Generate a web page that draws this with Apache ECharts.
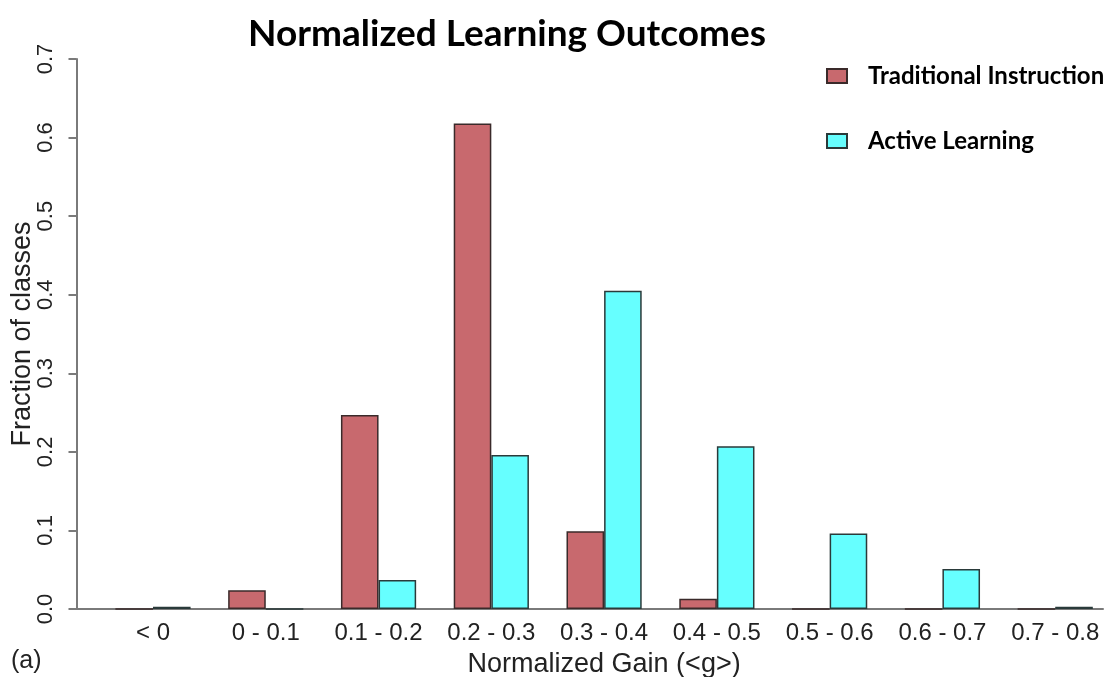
<!DOCTYPE html>
<html>
<head>
<meta charset="utf-8">
<script src="https://cdn.jsdelivr.net/npm/echarts@6/dist/echarts.min.js"></script>
<style>
html,body{margin:0;padding:0;background:#fff;}
#c{width:1106px;height:677px;}
</style>
</head>
<body>
<div id="c"></div>
<script>
const categories = ['< 0', '0 - 0.1', '0.1 - 0.2', '0.2 - 0.3', '0.3 - 0.4', '0.4 - 0.5', '0.5 - 0.6', '0.6 - 0.7', '0.7 - 0.8'];
const traditional = [0, 0.024, 0.247, 0.618, 0.099, 0.013, 0, 0, 0];
const active = [0.003, 0, 0.037, 0.196, 0.405, 0.207, 0.096, 0.051, 0.003];
const seriesNames = ['Traditional Instruction', 'Active Learning'];
const yTicks = [0, 0.1, 0.2, 0.3, 0.4, 0.5, 0.6, 0.7];

const chart = echarts.init(document.getElementById('c'));
const axisFont = 'Liberation Sans, Arial, sans-serif';
const boldFont = 'Lato, "Open Sans", sans-serif';
const option = {
  animation: false,
  backgroundColor: '#fff',
  title: {
    text: 'Normalized Learning Outcomes',
    left: 502, top: 11, textAlign: 'center',
    textStyle: {fontFamily: boldFont, fontWeight: 'bold', fontSize: 37, color: '#000'}
  },
  legend: {
    orient: 'vertical',
    left: 826, top: 64, padding: 0,
    itemWidth: 20, itemHeight: 14,
    itemGap: 41,
    icon: 'rect',
    data: seriesNames,
    textStyle: {fontFamily: boldFont, fontWeight: 'bold', fontSize: 24, color: '#000', padding: [0, 0, 0, 16]}
  },
  grid: [
    {left: 76.5, right: 3, top: 59, bottom: 68, outerBoundsMode: 'none', containLabel: false},
    {left: 96.6, width: 1015, top: 59, bottom: 68, outerBoundsMode: 'none', containLabel: false}
  ],
  xAxis: [
    {gridIndex: 0, type: 'value', min: 0, max: 1,
     axisLine: {show: true, lineStyle: {color: '#7a7a7a', width: 2}},
     axisTick: {show: false}, axisLabel: {show: false}, splitLine: {show: false}},
    {gridIndex: 1, type: 'category', data: categories,
     axisLine: {show: false}, axisTick: {show: false}, splitLine: {show: false},
     axisLabel: {fontFamily: axisFont, fontSize: 24, color: '#222', margin: 12, interval: 0},
     name: 'Normalized Gain (<g>)', nameLocation: 'middle', nameGap: 42, nameMoveOverlap: false,
     nameTextStyle: {fontFamily: axisFont, fontSize: 27, color: '#222'}}
  ],
  yAxis: [
    {gridIndex: 0, type: 'value', min: 0, max: 0.7, interval: 0.1,
     axisLine: {show: true, lineStyle: {color: '#7a7a7a', width: 2}},
     axisTick: {show: true, length: 8, lineStyle: {color: '#7a7a7a', width: 2}},
     splitLine: {show: false},
     axisLabel: {rotate: 90, fontFamily: axisFont, fontSize: 22, color: '#222', margin: 20,
       formatter: v => v.toFixed(1)},
     name: 'Fraction of classes', nameLocation: 'middle', nameGap: 40, nameMoveOverlap: false,
     nameTextStyle: {fontFamily: axisFont, fontSize: 27, color: '#222'}},
    {gridIndex: 1, type: 'value', min: 0, max: 0.7, show: false}
  ],
  graphic: [
    {type: 'text', left: 11, top: 649,
     style: {text: '(a)', fontFamily: axisFont, fontSize: 25, fill: '#222'}}
  ],
  series: [
    {name: seriesNames[0], type: 'bar', xAxisIndex: 1, yAxisIndex: 1, data: traditional,
     barWidth: 37.6, barGap: '0%',
     itemStyle: {color: '#c8696e', borderColor: '#3a2a2a', borderWidth: 1.5}},
    {name: seriesNames[1], type: 'bar', xAxisIndex: 1, yAxisIndex: 1, data: active,
     barWidth: 37.6, barGap: '0%',
     itemStyle: {color: '#66ffff', borderColor: '#2a3a3a', borderWidth: 1.5}}
  ]
};
chart.setOption(option);
</script>
</body>
</html>
